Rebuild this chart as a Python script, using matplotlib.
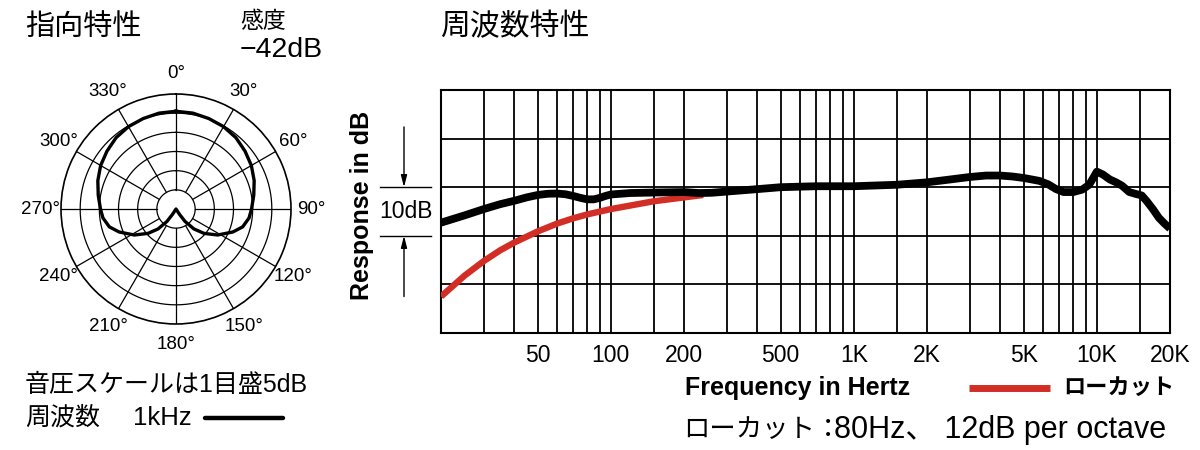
import numpy as np
import matplotlib
matplotlib.use("Agg")
import matplotlib.pyplot as plt
from matplotlib.lines import Line2D

plt.rcParams['font.family'] = ['Liberation Sans', 'Noto Sans CJK JP', 'DejaVu Sans']

# ---------------- data ----------------
# polar pattern (right half, degrees clockwise from 0), level in dB (ring = 5 dB, centre = -30 dB)
polar_angle_deg = [0, 10, 20, 30, 40, 50, 60, 70, 80, 90, 97, 105, 112, 122, 131, 138, 144, 147, 150, 180]
polar_db = [-4.5, -4.6, -4.9, -5.2, -5.7, -6.5, -7.3, -8.3, -9.4, -10.3, -10.8, -12.0, -14.0,
            -17.2, -20.3, -23.0, -26.0, -28.4, -30.0, -30.0]
polar_labels = ['0°', '30°', '60°', '90°', '120°', '150°', '180°', '210°', '240°', '270°', '300°', '330°']

# frequency response (Hz, dB on a 0..50 chart scale)
freq_black = [20, 25, 30, 35, 40, 45, 50, 55, 60, 65, 70, 75, 80, 85, 90, 95, 100, 120, 150, 200,
              230, 260, 300, 400, 500, 700, 1000, 1500, 2000, 2500, 3000, 3500, 4000, 4500, 5000,
              5800, 6300, 6800, 7300, 8000, 8700, 9300, 10000, 10600, 11300, 12000, 12700, 13600,
              14500, 15300, 16000, 17000, 18000, 19000, 20000]
resp_black = [22.7, 24.2, 25.5, 26.5, 27.2, 27.9, 28.4, 28.65, 28.7, 28.55, 28.2, 27.8, 27.5, 27.5,
              27.8, 28.2, 28.5, 28.8, 28.9, 29.0, 28.8, 28.85, 29.1, 29.6, 30.0, 30.2, 30.2, 30.5,
              31.0, 31.6, 32.1, 32.4, 32.4, 32.2, 31.9, 31.3, 30.6, 29.6, 29.0, 29.0, 29.5, 30.5,
              33.2, 32.6, 31.6, 31.0, 30.3, 29.0, 28.6, 28.3, 27.2, 25.5, 23.7, 22.5, 21.5]

freq_red = [20, 25, 30, 35, 40, 50, 60, 70, 80, 100, 150, 200, 240]
resp_red = [7.5, 11.8, 14.8, 17.0, 18.6, 20.9, 22.5, 23.6, 24.4, 25.5, 27.1, 27.9, 28.4]

freq_tick_values = [50, 100, 200, 500, 1000, 2000, 5000, 10000, 20000]
freq_tick_labels = ['50', '100', '200', '500', '1K', '2K', '5K', '10K', '20K']
grid_freqs = [30, 40, 50, 60, 70, 80, 90, 100, 150, 200, 300, 400, 500, 600, 700, 800, 900, 1000,
              1500, 2000, 3000, 4000, 5000, 6000, 7000, 8000, 9000, 10000, 15000]

RED = '#d22e26'

W, H = 1200, 450
fig = plt.figure(figsize=(12, 4.5), dpi=100)

def fx(x):
    return x / W

def fy(y):
    return 1 - y / H

# ---------------- polar chart ----------------
cx, cy, R = 176, 209, 115
pax = fig.add_axes([fx(cx - R), fy(cy + R), 2 * R / W, 2 * R / H], projection='polar')
pax.set_theta_zero_location('N')
pax.set_theta_direction(-1)
pax.set_ylim(0, 30)
pax.grid(False)
pax.set_xticks([])
pax.set_yticks([])
pax.spines['polar'].set_linewidth(1.2)
full = np.linspace(0, 2 * np.pi, 721)
for rr in [5, 10, 15, 20, 25]:
    pax.plot(full, np.full_like(full, rr), color='k', lw=0.9)
for a in range(0, 360, 30):
    pax.plot([np.radians(a)] * 2, [5, 30], color='k', lw=0.9)

ang = np.array(polar_angle_deg, dtype=float)
db = np.array(polar_db, dtype=float)
ang_full = np.concatenate([ang, 360 - ang[::-1]])
r_full = np.clip(np.concatenate([db, db[::-1]]) + 30, 0, None)
pax.plot(np.radians(ang_full), r_full, color='k', lw=2.4, solid_joinstyle='round')

for i, lab in enumerate(polar_labels):
    pax.text(np.radians(30 * i), 35.4, lab, ha='center', va='center', fontsize=13.5, clip_on=False)

# ---------------- frequency chart ----------------
L, Rr, T, B = 441, 1170, 90, 333
ax = fig.add_axes([fx(L), fy(B), (Rr - L) / W, (B - T) / H])
ax.set_xscale('log')
ax.set_xlim(20, 20000)
ax.set_ylim(0, 50)
for f in grid_freqs:
    ax.axvline(f, color='k', lw=1.3, zorder=1)
for v in [10, 20, 30, 40]:
    ax.axhline(v, color='k', lw=1.3, zorder=1)
for s in ax.spines.values():
    s.set_linewidth(1.5)
ax.plot(freq_red, resp_red, color=RED, lw=4.6, solid_capstyle='butt', solid_joinstyle='round', zorder=3)
ax.plot(freq_black, resp_black, color='k', lw=5.6, solid_capstyle='butt', solid_joinstyle='round', zorder=4)
ax.set_yticks([])
ax.set_xticks(freq_tick_values)
ax.set_xticklabels(freq_tick_labels)
ax.xaxis.set_minor_locator(matplotlib.ticker.NullLocator())
ax.tick_params(axis='x', length=0, pad=8, labelsize=16.5)

# 10dB annotation
trans = matplotlib.transforms.blended_transform_factory(ax.transAxes, ax.transData)
xl0, xl1 = (380 - L) / (Rr - L), (431 - L) / (Rr - L)
xa = (404 - L) / (Rr - L)
for v in [30, 20]:
    ax.add_line(Line2D([xl0, xl1], [v, v], color='k', lw=1.0, transform=trans, clip_on=False))
ax.annotate('', xy=(xa, 30), xytext=(xa, 42.4), xycoords=trans, textcoords=trans,
            arrowprops=dict(arrowstyle='-|>,head_length=0.7,head_width=0.18', color='k', lw=1.0,
                            shrinkA=0, shrinkB=0), annotation_clip=False)
ax.annotate('', xy=(xa, 20), xytext=(xa, 7.5), xycoords=trans, textcoords=trans,
            arrowprops=dict(arrowstyle='-|>,head_length=0.7,head_width=0.18', color='k', lw=1.0,
                            shrinkA=0, shrinkB=0), annotation_clip=False)
fig.text(fx(406), fy(212), '10dB', ha='center', va='center', fontsize=16.5)
fig.text(fx(362), fy(205), 'Response in dB', rotation=90, ha='center', va='center',
         fontsize=18, fontweight='bold')

# ---------------- texts ----------------
fig.text(fx(25), fy(27), '指向特性', ha='left', va='center', fontsize=21)
fig.text(fx(240), fy(22), '感度', ha='left', va='center', fontsize=16.5)
fig.text(fx(240), fy(50), '−42dB', ha='left', va='center', fontsize=20.5)
fig.text(fx(440), fy(27), '周波数特性', ha='left', va='center', fontsize=21.5)

fig.text(fx(25), fy(385), '音圧スケールは1目盛5dB', ha='left', va='center', fontsize=18)
fig.text(fx(25), fy(418), '周波数', ha='left', va='center', fontsize=18)
fig.text(fx(133), fy(418), '1kHz', ha='left', va='center', fontsize=18.5)
fig.add_artist(Line2D([fx(205), fx(283)], [fy(418), fy(418)], color='k', lw=3.2,
                      solid_capstyle='round', transform=fig.transFigure))

fig.text(fx(685), fy(388), 'Frequency in Hertz', ha='left', va='center', fontsize=18, fontweight='bold')
fig.add_artist(Line2D([fx(969), fx(1050)], [fy(388), fy(388)], color=RED, lw=5,
                      solid_capstyle='butt', transform=fig.transFigure))
fig.text(fx(1063), fy(388), 'ローカット', ha='left', va='center', fontsize=16, fontweight='bold')
fig.text(fx(683), fy(430), 'ローカット：', ha='left', va='center', fontsize=19)
fig.text(fx(834), fy(430), '80Hz、 12dB per octave', ha='left', va='center', fontsize=22)

fig.savefig('out.png', dpi=100, facecolor='white')
